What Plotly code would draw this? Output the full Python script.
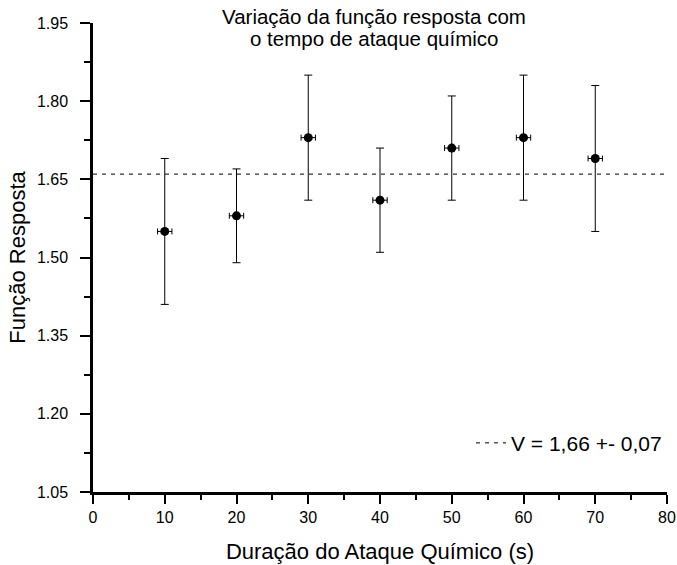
import plotly.graph_objects as go

# Data
tempo = [10, 20, 30, 40, 50, 60, 70]
resposta = [1.55, 1.58, 1.73, 1.61, 1.71, 1.73, 1.69]
erro_y = [0.14, 0.09, 0.12, 0.10, 0.10, 0.12, 0.14]
erro_x = [1, 1, 1, 1, 1, 1, 1]
media_x = [0, 80]
media_y = [1.66, 1.66]
legenda = "V = 1,66 +- 0,07"
titulo = ["Variação da função resposta com", "o tempo de ataque químico"]

FONT = "Liberation Sans, Arial, sans-serif"

fig = go.Figure()
fig.add_trace(go.Scatter(
    x=media_x, y=media_y, mode="lines", name=legenda,
    line=dict(color="black", width=1, dash="4px,5px"),
    showlegend=True,
))
fig.add_trace(go.Scatter(
    x=tempo, y=resposta, mode="markers", showlegend=False,
    marker=dict(color="black", size=9),
    error_y=dict(type="data", array=erro_y, color="black", thickness=1, width=4),
    error_x=dict(type="data", array=erro_x, color="black", thickness=1, width=3),
))

for linha, ypos in zip(titulo, [1.0128, 0.9659]):
    fig.add_annotation(
        text=linha, x=0.49, xref="paper", y=ypos, yref="paper",
        xanchor="center", yanchor="middle", showarrow=False,
        font=dict(family=FONT, size=20.5, color="black"),
    )

fig.update_layout(
    width=677, height=565,
    margin=dict(l=93, r=10, t=23, b=73),
    plot_bgcolor="white", paper_bgcolor="white",
    font=dict(family=FONT, color="black"),
    showlegend=True,
    legend=dict(
        x=1.0, y=0.104, xanchor="right", yanchor="middle",
        font=dict(family=FONT, size=21, color="black"),
        bgcolor="rgba(0,0,0,0)",
    ),
)
fig.update_xaxes(
    range=[0, 80], tickvals=[0, 10, 20, 30, 40, 50, 60, 70, 80],
    ticks="outside", ticklen=9, tickwidth=2, tickcolor="black",
    minor=dict(dtick=5, ticks="outside", ticklen=5, tickwidth=2, tickcolor="black", showgrid=False),
    showline=True, linewidth=2.5, linecolor="black",
    showgrid=False, zeroline=False, automargin=False, ticklabeloverflow="allow",
    tickfont=dict(family=FONT, size=16, color="black"),
    title=dict(text="Duração do Ataque Químico (s)", font=dict(family=FONT, size=22, color="black"), standoff=19),
)
fig.update_yaxes(
    range=[1.05, 1.95], tickvals=[1.05, 1.20, 1.35, 1.50, 1.65, 1.80, 1.95], tickformat=".2f",
    ticks="outside", ticklen=10, tickwidth=2, tickcolor="black",
    minor=dict(tickvals=[1.125, 1.275, 1.425, 1.575, 1.725, 1.875], ticks="outside", ticklen=6, tickwidth=2, tickcolor="black", showgrid=False),
    showline=True, linewidth=2.5, linecolor="black",
    showgrid=False, zeroline=False, automargin=False, ticklabelstandoff=9, ticklabeloverflow="allow",
    tickfont=dict(family=FONT, size=16, color="black"),
    title=dict(text="Função Resposta", font=dict(family=FONT, size=22, color="black"), standoff=6),
)

fig.write_html(
    "out.html",
    config={"displayModeBar": False},
    post_script="document.body.style.margin='0';document.body.style.overflow='hidden';",
)
